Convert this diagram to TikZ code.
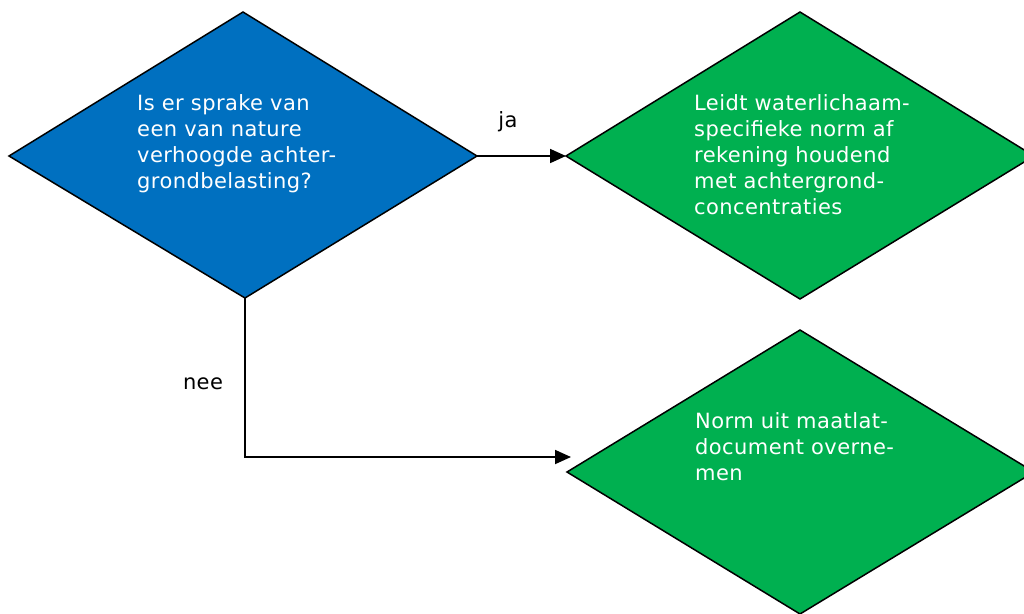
\documentclass[tikz,border=0pt]{standalone}
\usepackage{fontspec}
\setmainfont{DejaVu Sans}
\newfontfamily\lsfont{DejaVu Sans}[LetterSpace=2]
\usetikzlibrary{arrows.meta}
\definecolor{dblue}{HTML}{0070C0}
\definecolor{dgreen}{HTML}{00B050}
\tikzset{
  dia/.style={draw=black, line width=1.5pt, line join=miter},
  dtext/.style={anchor=north west, inner sep=0pt, align=left, text=white, font=\lsfont\fontsize{21}{26}\selectfont},
  lbl/.style={anchor=base, inner sep=0pt, font=\lsfont\fontsize{21}{26}\selectfont},
  conn/.style={draw=black, line width=1.8pt, -{Triangle[length=16pt,width=14pt]}}
}
\begin{document}
\begin{tikzpicture}[x=1pt,y=-1pt]
\useasboundingbox (0,0) rectangle (1024,613);
\clip (0,0) rectangle (1024,613);
% left diamond
\coordinate (qT) at (243,12);
\coordinate (qL) at (9,156);
\coordinate (qR) at (477,156);
\coordinate (qB) at (245,298);
\fill[dblue] (qT) -- (qR) -- (qB) -- (qL) -- cycle;
\draw[dia] (qT) -- (qR) -- (qB) -- (qL) -- cycle;
% right top diamond
\coordinate (aT) at (800,12);
\coordinate (aL) at (566,156);
\coordinate (aR) at (1034,156);
\coordinate (aB) at (800,299);
\fill[dgreen] (aT) -- (aR) -- (aB) -- (aL) -- cycle;
\draw[dia] (aT) -- (aR) -- (aB) -- (aL) -- cycle;
% right bottom diamond
\coordinate (bT) at (800,330);
\coordinate (bL) at (567,472);
\coordinate (bR) at (1034,472);
\coordinate (bB) at (800,614);
\fill[dgreen] (bT) -- (bR) -- (bB) -- (bL) -- cycle;
\draw[dia] (bT) -- (bR) -- (bB) -- (bL) -- cycle;
% texts
\node[dtext] (q) at (137,94.5) {Is er sprake van\\een van nature\\verhoogde achter-\\grondbelasting?};
\node[dtext] (a) at (694,94.5) {Leidt waterlichaam-\\specifieke norm af\\rekening houdend\\met achtergrond-\\concentraties};
\node[dtext] (b) at (695,412.5) {Norm uit maatlat-\\document overne-\\men};
% connectors
\coordinate (arrA) at (566,156);
\coordinate (corner) at (245,457);
\coordinate (arrB) at (571,457);
\draw[conn] (qR) -- (arrA);
\draw[conn] (qB) -- (corner) -- (arrB);
\node[lbl] (ja) at (508,127) {ja};
\node[lbl] (nee) at (203,389) {nee};
\end{tikzpicture}
\end{document}
